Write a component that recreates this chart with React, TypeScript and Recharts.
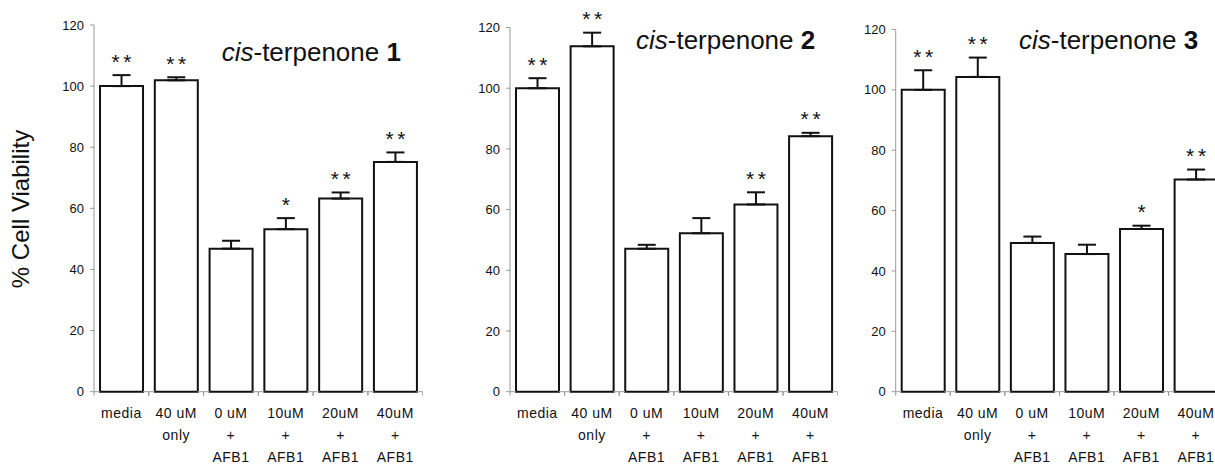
import React from "react";
import { BarChart, Bar, XAxis, YAxis, ErrorBar, LabelList } from "recharts";

// Category labels (one entry per line of the tick label)
const groupLines = [
  ["media"],
  ["40 uM", "only"],
  ["0 uM", "+", "AFB1"],
  ["10uM", "+", "AFB1"],
  ["20uM", "+", "AFB1"],
  ["40uM", "+", "AFB1"],
];
const groups = groupLines.map((l) => l.join(" "));

// cis-terpenone 1
const t1Values = [100, 101.9, 46.8, 53.2, 63.2, 75.2];
const t1Errors = [3.6, 1.0, 2.6, 3.6, 2.0, 3.1];
const t1Stars = ["**", "**", "", "*", "**", "**"];

// cis-terpenone 2
const t2Values = [100, 113.8, 47.1, 52.2, 61.7, 84.2];
const t2Errors = [3.3, 4.5, 1.3, 5.0, 4.0, 1.1];
const t2Stars = ["**", "**", "", "", "**", "**"];

// cis-terpenone 3
const t3Values = [100, 104.3, 49.3, 45.6, 53.9, 70.3];
const t3Errors = [6.5, 6.4, 2.1, 3.1, 1.1, 3.3];
const t3Stars = ["**", "**", "", "", "*", "**"];

const yTicks = [0, 20, 40, 60, 80, 100, 120];

const FONT = "'Liberation Sans', Arial, Helvetica, sans-serif";
const INK = "#111";
const AXIS = "#9a9a9a";
const H = 464;
const BASE = 391.7; // y pixel of the x axis
const GAP = 0.11; // bar category gap, each side

type Panel = {
  num: string;
  values: number[];
  errors: number[];
  stars: string[];
  left: number;
  axisW: number;
  plotW: number;
  top: number;
  titleX: number;
  titleY: number;
};

const panels: Panel[] = [
  { num: "1", values: t1Values, errors: t1Errors, stars: t1Stars, left: 40, axisW: 54, plotW: 328.7, top: 25, titleX: 221.7, titleY: 61 },
  { num: "2", values: t2Values, errors: t2Errors, stars: t2Stars, left: 455, axisW: 55, plotW: 327.7, top: 27.5, titleX: 636, titleY: 48.5 },
  { num: "3", values: t3Values, errors: t3Errors, stars: t3Stars, left: 840, axisW: 55.7, plotW: 327.5, top: 29.5, titleX: 1019, titleY: 48.5 },
];

// x tick: gray axis segments in the gaps, boundary ticks, multi-line label
function GroupTick(props: any) {
  const { x, y, payload, step } = props;
  const idx = groups.indexOf(payload.value);
  const lines = groupLines[idx] || [];
  const half = step / 2;
  const bw = step * (1 - 2 * GAP);
  return (
    <g>
      <line x1={x - half} x2={x - bw / 2} y1={y} y2={y} stroke={AXIS} />
      <line x1={x + bw / 2} x2={x + half} y1={y} y2={y} stroke={AXIS} />
      <line x1={x - half} x2={x - half} y1={y} y2={y + 4} stroke={AXIS} />
      <line x1={x + half} x2={x + half} y1={y} y2={y + 4} stroke={AXIS} />
      {lines.map((t, i) => (
        <text
          key={i}
          x={x}
          y={y + 26.5 + i * 21.8}
          textAnchor="middle"
          fontSize={14}
          letterSpacing={0.5}
          fontFamily={FONT}
          fill={INK}
        >
          {t}
        </text>
      ))}
    </g>
  );
}

function makeStarLabel(p: Panel) {
  return (props: any) => {
    const vb = props.viewBox || {};
    const x = props.x ?? vb.x;
    const y = props.y ?? vb.y;
    const width = props.width ?? vb.width;
    const i = props.index;
    const s = p.stars[i];
    if (!s) return null;
    const pxPerUnit = (BASE - p.top) / 120;
    const errTop = y - p.errors[i] * pxPerUnit;
    const cx = x + width / 2;
    const by = errTop - 6.5;
    const xs = s.length === 2 ? [cx - 5.9, cx + 5.9] : [cx];
    return (
      <g>
        {xs.map((sx, k) => (
          <text key={k} x={sx} y={by} textAnchor="middle" fontSize={21} fontFamily={FONT} fill={INK}>
            *
          </text>
        ))}
      </g>
    );
  };
}

function PanelChart({ p }: { p: Panel }) {
  const data = groups.map((name, i) => ({
    name,
    v: p.values[i],
    e: [0, p.errors[i]],
  }));
  const step = p.plotW / groups.length;
  return (
    <div style={{ position: "absolute", left: p.left, top: 0 }}>
      <BarChart
        width={p.axisW + p.plotW}
        height={H}
        data={data}
        margin={{ top: p.top, right: 0, bottom: 0, left: 0 }}
        barCategoryGap={`${GAP * 100}%`}
        style={{ overflow: "visible" }}
      >
        <XAxis
          dataKey="name"
          height={H - BASE}
          interval={0}
          tickLine={false}
          tickSize={0}
          tickMargin={0}
          axisLine={false}
          tick={(tp: any) => <GroupTick {...tp} step={step} />}
        />
        <YAxis
          width={p.axisW}
          domain={[0, 120]}
          ticks={yTicks}
          interval={0}
          tickSize={4}
          tickMargin={6}
          axisLine={{ stroke: AXIS }}
          tickLine={{ stroke: AXIS }}
          tick={{ fontSize: 13, fill: INK, fontFamily: FONT }}
        />
        <Bar dataKey="v" fill="#fff" stroke={INK} strokeWidth={2} isAnimationActive={false}>
          <ErrorBar dataKey="e" direction="y" width={9} stroke={INK} strokeWidth={2} />
          <LabelList dataKey="v" content={makeStarLabel(p)} />
        </Bar>
      </BarChart>
    </div>
  );
}

export default function App() {
  return (
    <div
      style={{
        position: "absolute",
        left: 0,
        top: 0,
        width: 1215,
        height: H,
        overflow: "hidden",
        background: "#fff",
      }}
    >
      {panels.map((p) => (
        <PanelChart key={p.num} p={p} />
      ))}
      <svg
        width={1215}
        height={H}
        style={{ position: "absolute", left: 0, top: 0, pointerEvents: "none" }}
      >
        <text
          transform="translate(29,209) rotate(-90)"
          textAnchor="middle"
          fontSize={24}
          fontFamily={FONT}
          fill={INK}
        >
          % Cell Viability
        </text>
        {panels.map((p) => (
          <text
            key={p.num}
            x={p.titleX}
            y={p.titleY}
            fontSize={26}
            fontFamily={FONT}
            fill={INK}
            style={{ whiteSpace: "pre" }}
          >
            <tspan fontStyle="italic">cis</tspan>
            <tspan>-terpenone </tspan>
            <tspan fontWeight="bold">{p.num}</tspan>
          </text>
        ))}
      </svg>
    </div>
  );
}
